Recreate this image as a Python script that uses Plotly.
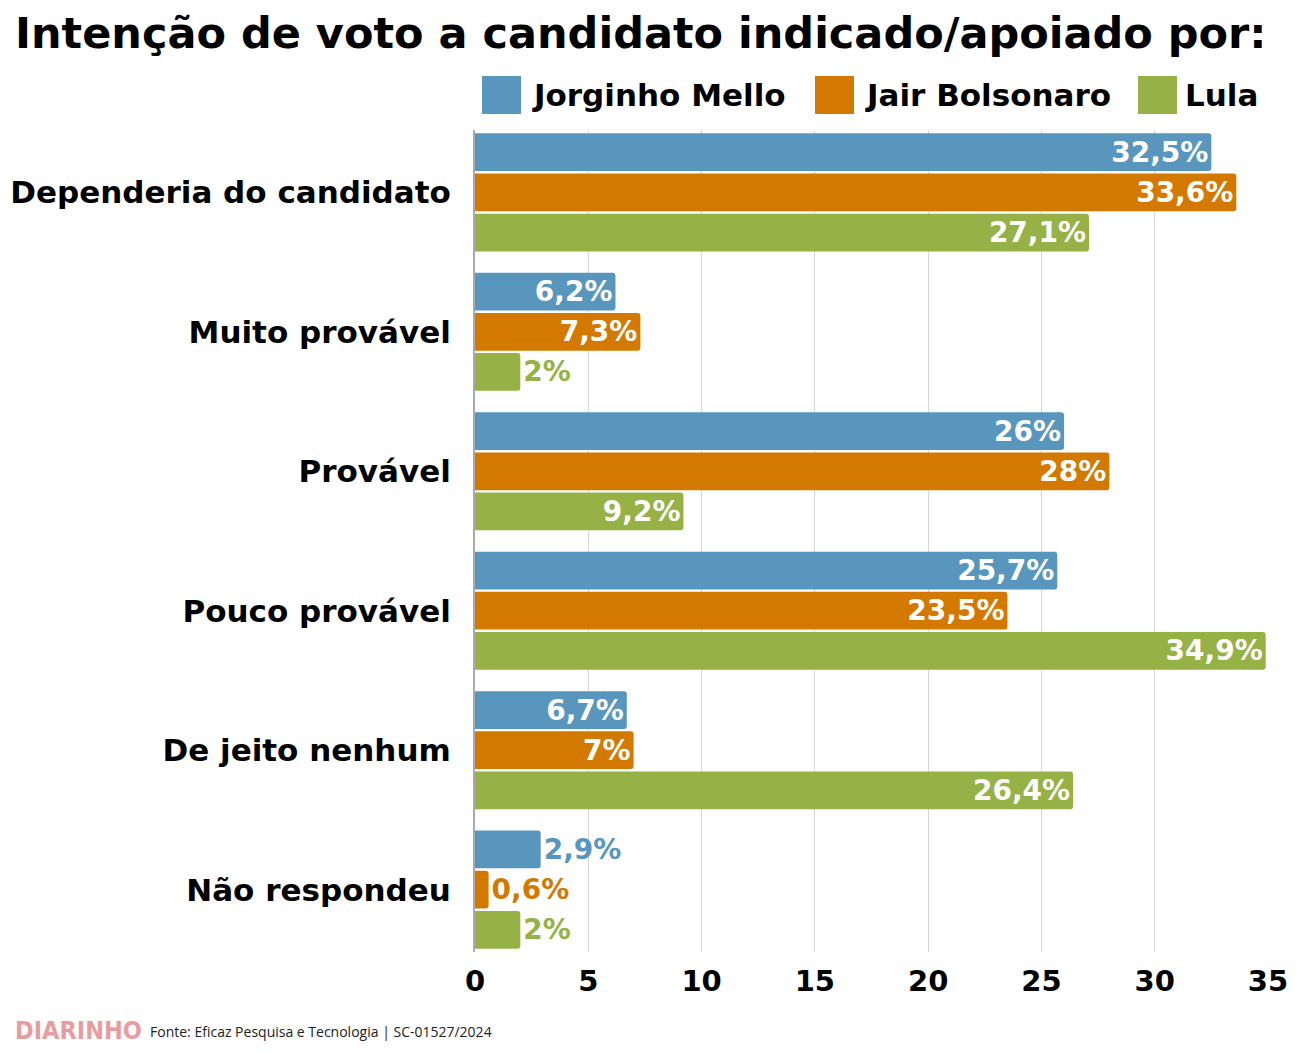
import plotly.graph_objects as go

categories = ["Dependeria do candidato", "Muito provável", "Provável",
              "Pouco provável", "De jeito nenhum", "Não respondeu"]
series_names = ["Jorginho Mello", "Jair Bolsonaro", "Lula"]
jorginho = [32.5, 6.2, 26.0, 25.7, 6.7, 2.9]
bolsonaro = [33.6, 7.3, 28.0, 23.5, 7.0, 0.6]
lula = [27.1, 2.0, 9.2, 34.9, 26.4, 2.0]
x_ticks = [0, 5, 10, 15, 20, 25, 30, 35]
colors = ["#5896BD", "#D47900", "#96B145"]

title_text = "Intenção de voto a candidato indicado/apoiado por:"
source_text = "Fonte: Eficaz Pesquisa e Tecnologia | SC-01527/2024"
brand_text = "DIARINHO"

OFF = 8  # page body margin
W, H = 1300 - 2 * OFF, 1053 - 2 * OFF
# screen-pixel targets of plot area
SL, SR, ST, SB = 475, 1268, 130, 952
L = SL - OFF
T = ST - OFF
R = W - (SR - OFF)
B = H - (SB - OFF)
PW, PH = W - L - R, H - T - B

def px(x):
    return (x - OFF - L) / PW

def py(y):
    return (H - B - (y - OFF)) / PH

def fmt(v):
    s = f"{v:g}".replace(".", ",")
    return s + "%"

FONT = "DejaVu Sans"
fig = go.Figure()
for name, vals, col in zip(series_names, [jorginho, bolsonaro, lula], colors):
    pos = ["inside" if v > 5 else "outside" for v in vals]
    fig.add_trace(go.Bar(
        y=categories, x=vals, name=name, orientation="h",
        marker=dict(color=col, line=dict(width=0), cornerradius=3),
        text=[fmt(v) for v in vals], textposition=pos,
        insidetextanchor="end",
        insidetextfont=dict(color="white", size=28, family=FONT, weight=700),
        outsidetextfont=dict(color=col, size=28, family=FONT, weight=700),
        cliponaxis=False, showlegend=False,
    ))

fig.update_layout(
    width=W, height=H,
    margin=dict(l=L, r=R, t=T, b=B, autoexpand=False),
    paper_bgcolor="white", plot_bgcolor="white",
    barmode="group", bargap=0.136, bargroupgap=0.06,
    font=dict(family=FONT, color="black"),
    uniformtext=dict(minsize=28, mode="show"),
)
fig.update_xaxes(
    range=[0, 35], tickvals=x_ticks, showgrid=True, gridcolor="#D6D6D6",
    gridwidth=1, zeroline=False, showline=False, ticks="", automargin=False,
    ticklabelstandoff=9,
    tickfont=dict(size=29, family=FONT, color="black", weight=700),
)
fig.update_yaxes(
    range=[5.447, -0.447], showline=True, linecolor="#AAAAAA", linewidth=2,
    ticks="", ticklabelstandoff=16, automargin=False,
    tickfont=dict(size=31, family=FONT, color="black", weight=700),
)

anns = []
shapes = []
anns.append(dict(text=title_text, x=px(13), y=py(33), xref="paper", yref="paper",
                 xanchor="left", yanchor="middle", showarrow=False,
                 font=dict(size=43, family=FONT, color="black", weight=700)))
# legend
leg = [(482, 532), (815, 865), (1138, 1185)]
for (sx, tx), name, col in zip(leg, series_names, colors):
    shapes.append(dict(type="rect", xref="paper", yref="paper",
                       x0=px(sx), x1=px(sx + 39), y0=py(114), y1=py(76),
                       fillcolor=col, line=dict(width=0)))
    anns.append(dict(text=name, x=px(tx - 2), y=py(95), xref="paper", yref="paper",
                     xanchor="left", yanchor="middle", showarrow=False,
                     font=dict(size=31, family=FONT, color="black", weight=700)))
# footer
anns.append(dict(text=brand_text, x=px(13), y=py(1030), xref="paper", yref="paper",
                 xanchor="left", yanchor="middle", showarrow=False,
                 font=dict(size=25, family="DejaVu Sans Condensed", color="#E89CA0", weight=700)))
anns.append(dict(text=source_text, x=px(148), y=py(1031), xref="paper", yref="paper",
                 xanchor="left", yanchor="middle", showarrow=False,
                 font=dict(size=14, family="Open Sans", color="#222222")))
fig.update_layout(annotations=anns, shapes=shapes)

fig.write_html("out.html")
